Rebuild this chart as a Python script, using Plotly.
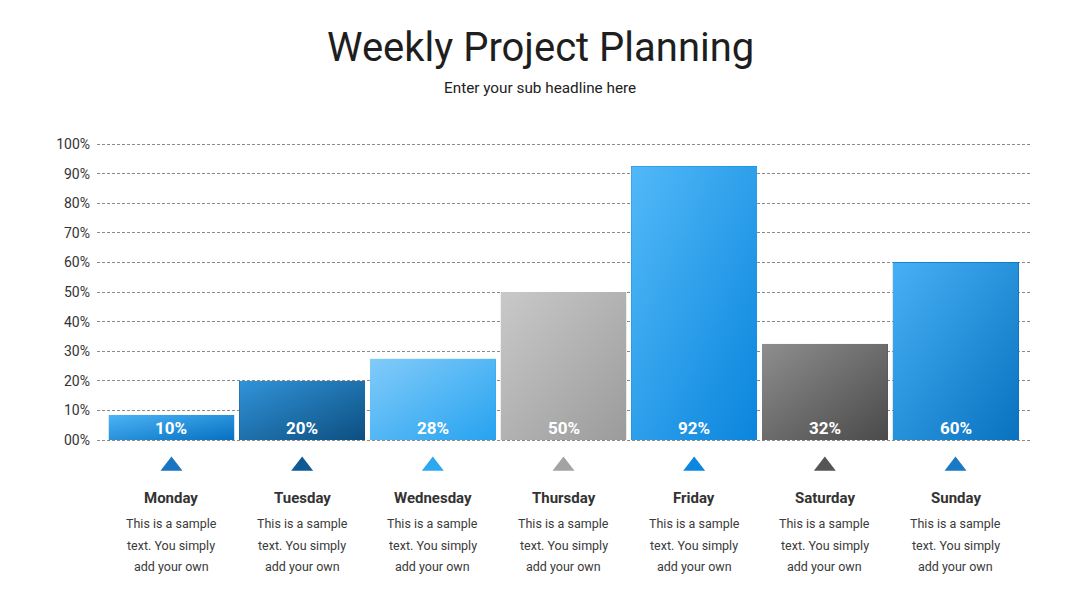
import base64
import plotly.graph_objects as go

# ---------------- data ----------------
days = ["Monday", "Tuesday", "Wednesday", "Thursday", "Friday", "Saturday", "Sunday"]
bar_values = [8.5, 20, 27.5, 50, 92.5, 32.5, 60]
bar_labels = ["10%", "20%", "28%", "50%", "92%", "32%", "60%"]
grad_start = ["#4cb4f6", "#3193d9", "#82cbf9", "#c9c9c9", "#52b9f8", "#8e8e8e", "#47b0f5"]
grad_end = ["#0570c0", "#0c4f80", "#26a3f0", "#9b9b9b", "#0a85dd", "#4a4a4a", "#0872c0"]
tri_colors = ["#1975c1", "#0f5a92", "#2ea7f1", "#a3a3a3", "#0b87e0", "#555555", "#1a79c5"]
desc_lines = ["This is a sample", "text. You simply", "add your own"]
y_tickvals = [0, 10, 20, 30, 40, 50, 60, 70, 80, 90, 100]
y_ticktext = ["00%", "10%", "20%", "30%", "40%", "50%", "60%", "70%", "80%", "90%", "100%"]

title_text = "Weekly Project Planning"
subtitle_text = "Enter your sub headline here"

FONT = "Roboto"
BAR_W = 0.964
xs = list(range(len(days)))

W, H = 1080, 608
ML, MR, MT, MB = 97, 50, 141, 0
PX_PER_UNIT = 2.96
ZERO_PX = 440
y_top = (ZERO_PX - MT) / PX_PER_UNIT
y_bot = (ZERO_PX - (H - MB)) / PX_PER_UNIT
plot_h = H - MT - MB
plot_w = W - ML - MR


def px_to_y(p):
    return (ZERO_PX - p) / PX_PER_UNIT


def px_to_paper_y(p):
    return (H - MB - p) / plot_h


fig = go.Figure()

# base bars
fig.add_trace(go.Bar(
    x=xs, y=bar_values, width=BAR_W,
    marker=dict(color=grad_end, line=dict(width=0)),
    hoverinfo="skip", showlegend=False,
))

# triangles under each bar
fig.add_trace(go.Scatter(
    x=xs, y=[px_to_y(466)] * len(xs), mode="markers",
    marker=dict(symbol="triangle-up", size=19, color=tri_colors, line=dict(width=0)),
    cliponaxis=False, hoverinfo="skip", showlegend=False,
))


def grad_svg(c1, c2):
    svg = (
        "<svg xmlns='http://www.w3.org/2000/svg' width='100' height='100' "
        "viewBox='0 0 100 100' preserveAspectRatio='none'>"
        "<defs><linearGradient id='g' x1='0' y1='0' x2='1' y2='1'>"
        f"<stop offset='0' stop-color='{c1}'/><stop offset='1' stop-color='{c2}'/>"
        "</linearGradient></defs>"
        "<rect x='0' y='0' width='100' height='100' fill='url(#g)'/></svg>"
    )
    return "data:image/svg+xml;base64," + base64.b64encode(svg.encode()).decode()


images = []
annotations = []
for i, v in enumerate(bar_values):
    images.append(dict(
        source=grad_svg(grad_start[i], grad_end[i]),
        xref="x", yref="y", x=i - BAR_W / 2, y=v,
        sizex=BAR_W, sizey=v, xanchor="left", yanchor="top",
        sizing="stretch", layer="above", opacity=1,
    ))
    annotations.append(dict(
        x=i, y=0, xref="x", yref="y", yshift=12, showarrow=False,
        text=f"<b>{bar_labels[i]}</b>",
        font=dict(family=FONT, size=17, color="white"),
        xanchor="center", yanchor="middle",
    ))
    annotations.append(dict(
        x=i, y=px_to_y(498), xref="x", yref="y", showarrow=False,
        text=f"<b>{days[i]}</b>",
        font=dict(family=FONT, size=15, color="#333333"),
        xanchor="center", yanchor="middle",
    ))
    for line, p in zip(desc_lines, [523, 545, 566]):
        annotations.append(dict(
            x=i, y=px_to_y(p), xref="x", yref="y", showarrow=False,
            text=line,
            font=dict(family=FONT, size=12.5, color="#3a3a3a"),
            xanchor="center", yanchor="middle",
        ))

annotations.append(dict(
    x=(540 - ML) / plot_w, y=px_to_paper_y(47), xref="paper", yref="paper",
    showarrow=False, text=title_text,
    font=dict(family=FONT, size=40, color="#1e1e1e"),
    xanchor="center", yanchor="middle",
))
annotations.append(dict(
    x=(540 - ML) / plot_w, y=px_to_paper_y(88), xref="paper", yref="paper",
    showarrow=False, text=subtitle_text,
    font=dict(family=FONT, size=15.3, color="#222222"),
    xanchor="center", yanchor="middle",
))

fig.update_layout(
    width=W, height=H,
    margin=dict(l=ML, r=MR, t=MT, b=MB, pad=0),
    paper_bgcolor="white", plot_bgcolor="white",
    font=dict(family=FONT, color="#333333"),
    bargap=0,
    xaxis=dict(range=[-0.57, 6.57], showticklabels=False, showgrid=False,
               zeroline=False, showline=False, ticks="", fixedrange=True),
    yaxis=dict(range=[y_bot, y_top], tickvals=y_tickvals, ticktext=y_ticktext,
               showgrid=True, gridcolor="#8a8a8a", gridwidth=1, griddash="3px,2px",
               zeroline=False, showline=False, ticks="",
               tickfont=dict(family=FONT, size=14, color="#333333"),
               ticklabelstandoff=6, fixedrange=True),
    images=images,
    annotations=annotations,
    showlegend=False,
)

fig.write_html("out.html")
